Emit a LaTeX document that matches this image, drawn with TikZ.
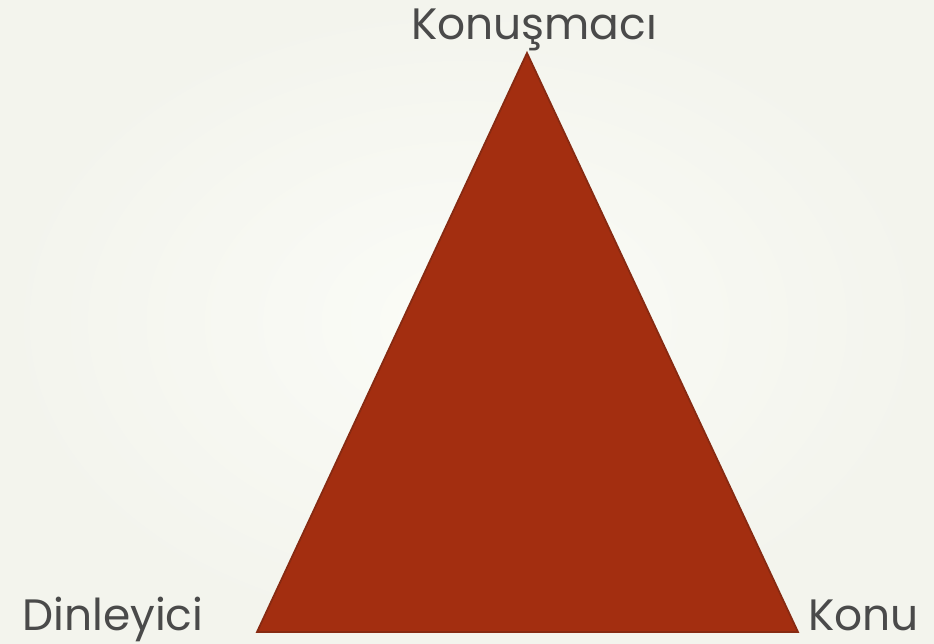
\documentclass[tikz,border=0pt]{standalone}
\usepackage{fontspec}
\setmainfont{Poppins}
\usetikzlibrary{positioning}
\definecolor{bgin}{HTML}{FBFCF7}
\definecolor{bgout}{HTML}{F3F4ED}
\definecolor{triFill}{HTML}{A32E10}
\definecolor{triEdge}{HTML}{872A12}
\definecolor{labelGray}{HTML}{4A4A4A}
\tikzset{
  corner/.style={text=labelGray, font=\fontsize{25}{30}\selectfont, inner sep=0pt},
  tri/.style={fill=triFill, draw=triEdge, line width=1pt, line join=miter}
}

\begin{document}
\begin{tikzpicture}[x=0.02cm, y=0.02cm]
  % background
  \shade[inner color=bgin, outer color=bgout] (0,0) rectangle (934,644);
  \useasboundingbox (0,0) rectangle (934,644);

  \coordinate (top) at (527,591);
  \coordinate (bl) at (257,12);
  \coordinate (br) at (798,12);
  \draw[tri] (top) -- (bl) -- (br) -- cycle;

  \node[corner, anchor=base] (speaker) at (534,604) {Konuşmacı};
  \node[corner, anchor=base west] (listener) at (22,13) {Dinleyici};
  \node[corner, anchor=base west] (topic) at (808,13) {Konu};
\end{tikzpicture}
\end{document}
